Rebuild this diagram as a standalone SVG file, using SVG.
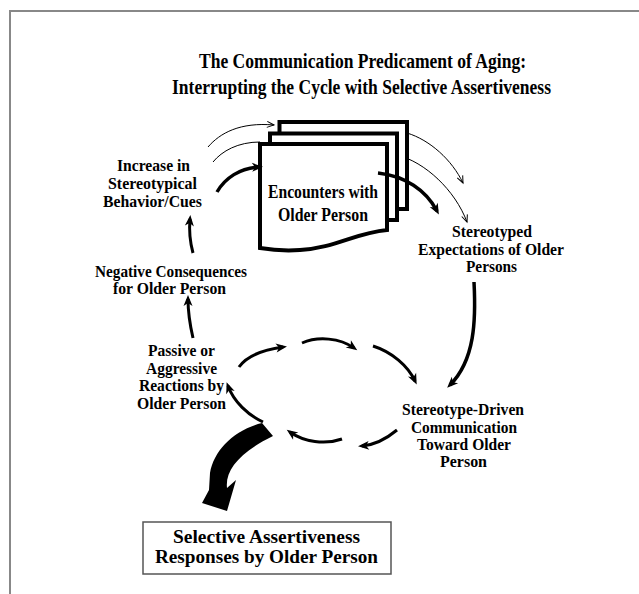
<svg xmlns="http://www.w3.org/2000/svg" width="639" height="594" viewBox="0 0 639 594">
<style>
text{font-family:"Liberation Serif","Times New Roman",serif;font-weight:bold;fill:#000}
.t{font-size:21px}
.n20{font-size:19.5px}
.n18{font-size:17px}
.thick{fill:none;stroke:#000;stroke-width:3.5;stroke-linecap:butt}
.mid{fill:none;stroke:#000;stroke-width:3;stroke-linecap:butt}
.thin{fill:none;stroke:#000;stroke-width:1}
.page{fill:#fff;stroke:#000;stroke-width:4;stroke-linejoin:miter}
</style>
<defs>
<marker id="ah" markerUnits="userSpaceOnUse" markerWidth="12" markerHeight="10" refX="7" refY="4.5" orient="auto" overflow="visible">
<path d="M0,0 L11,4.5 L0,9 L3,4.5 Z" fill="#000"/>
</marker>
<marker id="at" markerUnits="userSpaceOnUse" markerWidth="9" markerHeight="8" refX="7" refY="3" orient="auto" overflow="visible">
<path d="M0,0 L7,3 L0,6" fill="none" stroke="#000" stroke-width="1"/>
</marker>
</defs>
<rect width="639" height="594" fill="#fff"/>
<path d="M10,594 V11 H639" fill="none" stroke="#888" stroke-width="2"/>
<g id="title">
<text class="t" x="199" y="68" textLength="327" lengthAdjust="spacingAndGlyphs">The Communication Predicament of Aging:</text>
<text class="t" x="172" y="94" textLength="379" lengthAdjust="spacingAndGlyphs">Interrupting the Cycle with Selective Assertiveness</text>
</g>
<g id="connectors-back">
<path class="thin" d="M208,147 C220,133 240,122 274,125" marker-end="url(#at)"/>
<path class="thin" d="M213,162 C222,151 238,142 260,142"/>
<path class="thin" d="M407,133 C430,140 452,160 463,183" marker-end="url(#at)"/>
<path class="thin" d="M397,155 C425,162 455,190 467,222" marker-end="url(#at)"/>
</g>
<g id="encounters">
<rect class="page" x="279.5" y="122" width="127.5" height="87"/>
<rect class="page" x="270" y="133.5" width="127" height="86.5"/>
<path class="page" d="M260,144 H387 V230 C355,233 335,248 300,250 C285,251 272,250 260,248 Z"/>
<text class="n20" x="268" y="198" textLength="110" lengthAdjust="spacingAndGlyphs">Encounters with</text>
<text class="n20" x="278" y="221" textLength="90" lengthAdjust="spacingAndGlyphs">Older Person</text>
</g>
<g id="increase">
<text class="n18" x="117" y="171" textLength="73" lengthAdjust="spacingAndGlyphs">Increase in</text>
<text class="n18" x="108" y="189" textLength="89" lengthAdjust="spacingAndGlyphs">Stereotypical</text>
<text class="n18" x="103" y="207" textLength="99" lengthAdjust="spacingAndGlyphs">Behavior/Cues</text>
</g>
<g id="negative">
<text class="n18" x="95" y="277" textLength="152" lengthAdjust="spacingAndGlyphs">Negative Consequences</text>
<text class="n18" x="113" y="294" textLength="113" lengthAdjust="spacingAndGlyphs">for Older Person</text>
</g>
<g id="passive">
<text class="n18" x="148" y="356" textLength="67" lengthAdjust="spacingAndGlyphs">Passive or</text>
<text class="n18" x="146" y="373.5" textLength="71" lengthAdjust="spacingAndGlyphs">Aggressive</text>
<text class="n18" x="139" y="391" textLength="85" lengthAdjust="spacingAndGlyphs">Reactions by</text>
<text class="n18" x="137" y="408.5" textLength="89" lengthAdjust="spacingAndGlyphs">Older Person</text>
</g>
<g id="expectations">
<text class="n18" x="452" y="237" textLength="80" lengthAdjust="spacingAndGlyphs">Stereotyped</text>
<text class="n18" x="418" y="255" textLength="146" lengthAdjust="spacingAndGlyphs">Expectations of Older</text>
<text class="n18" x="466" y="272" textLength="51" lengthAdjust="spacingAndGlyphs">Persons</text>
</g>
<g id="communication">
<text class="n18" x="402" y="415" textLength="122" lengthAdjust="spacingAndGlyphs">Stereotype-Driven</text>
<text class="n18" x="411" y="433" textLength="106" lengthAdjust="spacingAndGlyphs">Communication</text>
<text class="n18" x="417" y="450" textLength="94" lengthAdjust="spacingAndGlyphs">Toward Older</text>
<text class="n18" x="440" y="467" textLength="47" lengthAdjust="spacingAndGlyphs">Person</text>
</g>
<g id="assertiveness">
<rect x="143" y="522" width="248" height="52" fill="#fff" stroke="#555" stroke-width="1.5"/>
<text class="n20" x="173" y="543" textLength="187" lengthAdjust="spacingAndGlyphs">Selective Assertiveness</text>
<text class="n20" x="155" y="563" textLength="223" lengthAdjust="spacingAndGlyphs">Responses by Older Person</text>
</g>
<g id="connectors">
<path class="thick" d="M217,192 C225,178 240,168 259,167" marker-end="url(#ah)"/>
<path class="thick" d="M378,173 C405,176 426,190 437,211" marker-end="url(#ah)"/>
<path class="thick" d="M474,282 C476,320 475,360 450,385" marker-end="url(#ah)"/>
<path class="mid" d="M397,430 C385,440 373,445 362,446" marker-end="url(#ah)"/>
<path class="mid" d="M239,367 C246,357 262,350 283,347" marker-end="url(#ah)"/>
<path class="mid" d="M302,343 C318,336 340,338 354,348" marker-end="url(#ah)"/>
<path class="mid" d="M373,346 C392,352 408,366 415,381" marker-end="url(#ah)"/>
<path class="mid" d="M342,439 C325,445 304,442 290,432" marker-end="url(#ah)"/>
<path class="mid" d="M263,422 C248,415 234,402 228,386" marker-end="url(#ah)"/>
<path class="mid" d="M193,338 C190,325 188,312 188,299" marker-end="url(#ah)"/>
<path class="mid" d="M193,253 C190,242 189,230 190,219" marker-end="url(#ah)"/>
<path d="M262,423 C234,430 214,450 210,473 L209,490 L202,503 L227,511 L236,480 L227,488 C225,470 240,452 273,436 Z" fill="#000"/>
</g>
</svg>
